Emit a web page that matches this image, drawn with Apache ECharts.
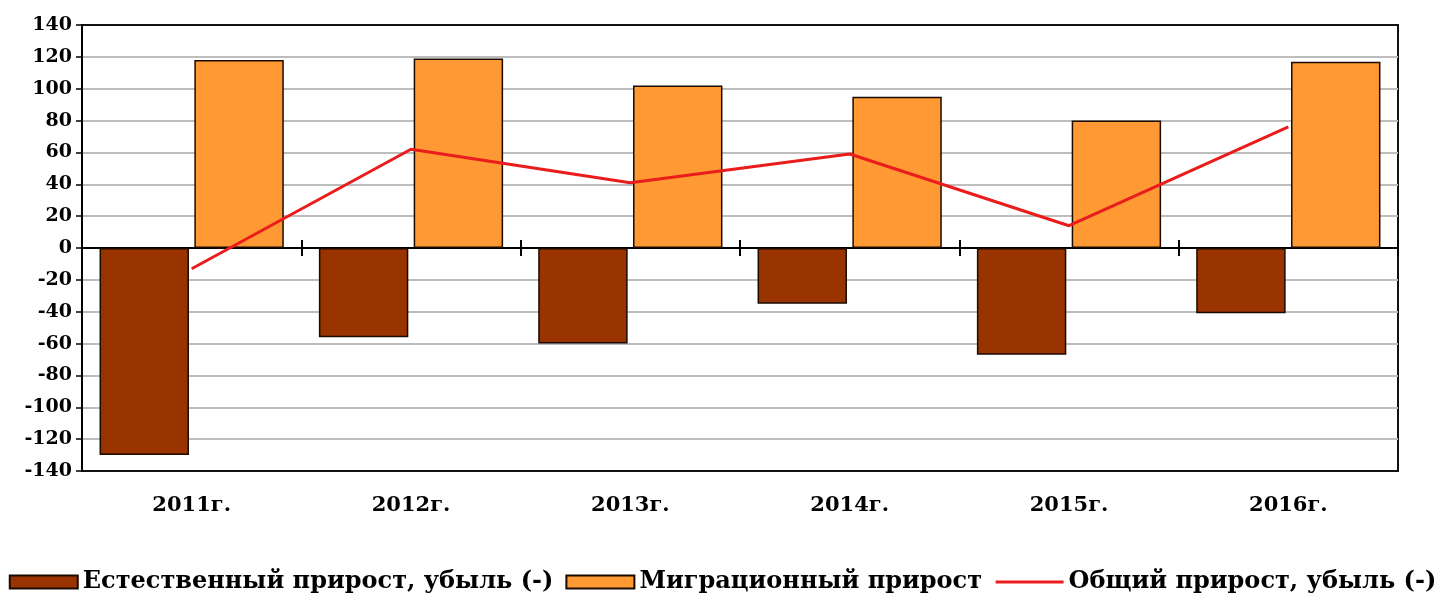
<!DOCTYPE html>
<html>
<head>
<meta charset="utf-8">
<script src="https://cdn.jsdelivr.net/npm/echarts@6/dist/echarts.min.js"></script>
<style>
  html, body { margin: 0; padding: 0; background: #fff; }
  #chart { width: 1445px; height: 603px; }
</style>
</head>
<body>
<div id="chart"></div>
<script>
// категории и данные
const years = ['2011г.', '2012г.', '2013г.', '2014г.', '2015г.', '2016г.'];
const naturalGrowth = [-130, -56, -60, -35, -67, -41];
const migrationGrowth = [118, 119, 102, 95, 80, 117];
const totalGrowth = [-13, 62, 41, 59, 14, 76];

const yMin = -140;
const yMax = 140;
const yStep = 20;

const seriesNames = ['Естественный прирост, убыль (-)', 'Миграционный прирост', 'Общий прирост, убыль (-)'];

const FONT = '"DejaVu Serif", "Liberation Serif", serif';
const gridBox = { left: 82, right: 47, top: 25, bottom: 132 };

const myChart = echarts.init(document.getElementById('chart'));

const option = {
  animation: false,
  grid: [
    Object.assign({ show: true, borderColor: '#111', borderWidth: 2 }, gridBox),
    // второй слой только для тиков вверх от нулевой линии
    Object.assign({ show: false }, gridBox)
  ],
  legend: {
    bottom: 4,
    left: 'center',
    itemWidth: 68,
    itemHeight: 13,
    itemGap: 12,
    textStyle: { fontFamily: FONT, fontWeight: 'bold', fontSize: 24, color: '#000' },
    data: [
      { name: seriesNames[0], icon: 'rect' },
      { name: seriesNames[1], icon: 'rect' },
      { name: seriesNames[2], itemStyle: { opacity: 0 }, lineStyle: { width: 3 } }
    ]
  },
  xAxis: [
    {
      // ось на нуле, тики вниз
      type: 'category',
      data: years,
      gridIndex: 0,
      axisLine: { onZero: true, lineStyle: { color: '#000', width: 2 } },
      axisTick: { show: true, length: 8, lineStyle: { color: '#000', width: 2 } },
      axisLabel: { show: false }
    },
    {
      // подписи годов внизу
      type: 'category',
      data: years,
      gridIndex: 0,
      position: 'bottom',
      axisLine: { show: false, onZero: false },
      axisTick: { show: false },
      axisLabel: { margin: 24, color: '#000', fontFamily: FONT, fontWeight: 'bold', fontSize: 21 }
    },
    {
      // тики вверх от нуля
      type: 'category',
      data: years,
      gridIndex: 1,
      axisLine: { show: true, onZero: true, lineStyle: { color: '#000', width: 2 } },
      axisTick: { show: true, inside: true, length: 8, lineStyle: { color: '#000', width: 2 } },
      axisLabel: { show: false }
    }
  ],
  yAxis: [
    {
      type: 'value',
      gridIndex: 0,
      min: yMin,
      max: yMax,
      interval: yStep,
      axisLine: { show: true, lineStyle: { color: '#000', width: 2 } },
      axisTick: { show: true, length: 6, lineStyle: { color: '#000', width: 1.5 } },
      axisLabel: { margin: 10, color: '#000', fontFamily: FONT, fontWeight: 'bold', fontSize: 19 },
      splitLine: { showMinLine: false, showMaxLine: false, lineStyle: { color: '#bdbdbd', width: 2 } }
    },
    {
      type: 'value',
      gridIndex: 1,
      min: yMin,
      max: yMax,
      interval: yStep,
      show: false
    }
  ],
  series: [
    {
      name: seriesNames[0],
      type: 'bar',
      data: naturalGrowth,
      barGap: '6%',
      barCategoryGap: '16%',
      itemStyle: { color: '#993300', borderColor: '#1a0a00', borderWidth: 1.5 }
    },
    {
      name: seriesNames[1],
      type: 'bar',
      data: migrationGrowth,
      barGap: '6%',
      barCategoryGap: '16%',
      itemStyle: { color: '#FF9933', borderColor: '#1a0a00', borderWidth: 1.5 }
    },
    {
      name: seriesNames[2],
      type: 'line',
      data: totalGrowth,
      symbol: 'none',
      z: 5,
      lineStyle: { color: '#ea1c1c', width: 3 },
      itemStyle: { color: '#ea1c1c' }
    }
  ]
};

myChart.setOption(option);
</script>
</body>
</html>
